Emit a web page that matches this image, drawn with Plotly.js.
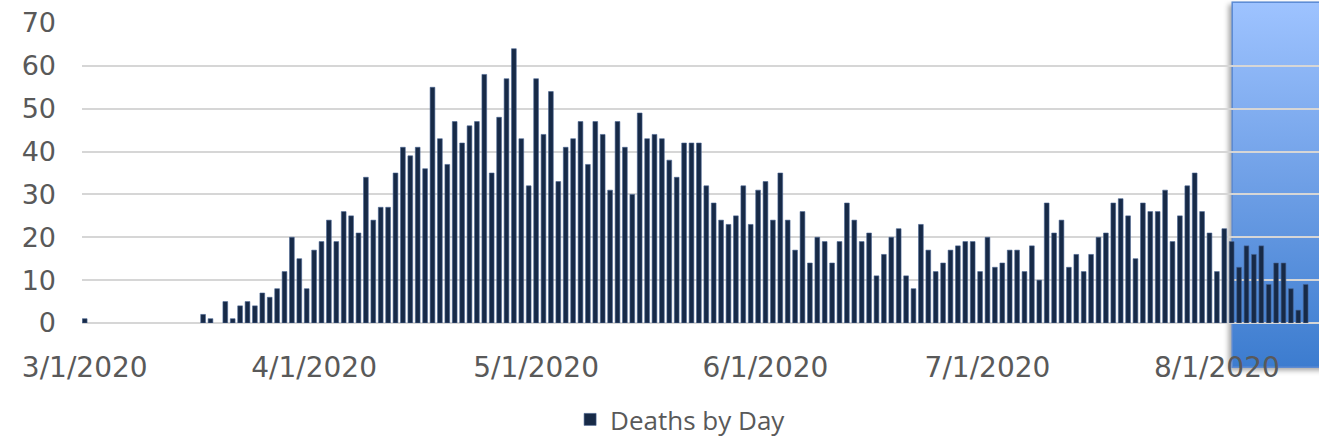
<!DOCTYPE html>
<html>
<head>
<meta charset="utf-8">
<script src="https://cdn.plot.ly/plotly-3.0.1.min.js"></script>
<style>html,body{margin:0;padding:0;background:#fff;}#chart{width:1319px;height:443px;}</style>
</head>
<body>
<div id="chart"></div>
<script>
// Daily deaths, consecutive days starting 3/1/2020
var startDate = '2020-03-01';
var deaths = [
  1, 0, 0, 0, 0, 0, 0, 0, 0, 0, 0, 0, 0, 0, 0, 0, 2, 1, 0, 5, 1, 4, 5, 4, 7, 6, 8, 12, 20, 15, 8,
  17, 19, 24, 19, 26, 25, 21, 34, 24, 27, 27, 35, 41, 39, 41, 36, 55, 43, 37, 47, 42, 46, 47, 58, 35, 48, 57, 64, 43, 32,
  57, 44, 54, 33, 41, 43, 47, 37, 47, 44, 31, 47, 41, 30, 49, 43, 44, 43, 38, 34, 42, 42, 42, 32, 28, 24, 23, 25, 32, 23, 31,
  33, 24, 35, 24, 17, 26, 14, 20, 19, 14, 19, 28, 24, 19, 21, 11, 16, 20, 22, 11, 8, 23, 17, 12, 14, 17, 18, 19, 19, 12,
  20, 13, 14, 17, 17, 12, 18, 10, 28, 21, 24, 13, 16, 12, 16, 20, 21, 28, 29, 25, 15, 28, 26, 26, 31, 19, 25, 32, 35, 26, 21,
  12, 22, 19, 13, 18, 16, 18, 9, 14, 14, 8, 3, 9
];
var seriesName = 'Deaths by Day';
var tickDates = ['2020-03-01', '2020-04-01', '2020-05-01', '2020-06-01', '2020-07-01', '2020-08-01'];
var tickLabels = ['3/1/2020', '4/1/2020', '5/1/2020', '6/1/2020', '7/1/2020', '8/1/2020'];
var yTicks = [0, 10, 20, 30, 40, 50, 60, 70];

function dayList(start, n) {
  var out = [];
  var d0 = new Date(start + 'T00:00:00Z');
  for (var i = 0; i < n; i++) {
    var d = new Date(d0.getTime() + i * 86400000);
    out.push(d.toISOString().slice(0, 10));
  }
  return out;
}
var dates = dayList(startDate, deaths.length);
// no outline on empty days so the baseline stays clean
var outlineWidths = deaths.map(function (v) { return v > 0 ? 0.7 : 0; });

var svg =
  '<svg xmlns="http://www.w3.org/2000/svg" width="97" height="376" viewBox="0 0 97 376" preserveAspectRatio="none">' +
  '<defs>' +
  '<linearGradient id="g" x1="0" y1="0" x2="0" y2="1">' +
  '<stop offset="0" stop-color="#9EC3FF"/><stop offset="0.5" stop-color="#6E9FE6"/><stop offset="1" stop-color="#3C7CCF"/>' +
  '</linearGradient>' +
  '<filter id="f" x="-50%" y="-10%" width="200%" height="120%"><feGaussianBlur stdDeviation="2.5"/></filter>' +
  '</defs>' +
  '<rect x="6.5" y="4.5" width="110" height="366" fill="#000" fill-opacity="0.35" filter="url(#f)"/>' +
  '<rect x="10.2" y="2.2" width="110" height="365" fill="url(#g)" stroke="#5A8AD4" stroke-width="1.5"/>' +
  '</svg>';
var svgUri = 'data:image/svg+xml;charset=utf-8,' + encodeURIComponent(svg);

var trace = {
  type: 'bar',
  name: seriesName,
  x: dates,
  y: deaths,
  marker: { color: '#172A47', line: { color: 'rgba(72,100,146,0.85)', width: outlineWidths } },
  showlegend: true,
  hoverinfo: 'x+y'
};

var layout = {
  width: 1319,
  height: 443,
  margin: { l: 82, r: 0, t: 23, b: 120 },
  paper_bgcolor: '#ffffff',
  plot_bgcolor: 'rgba(0,0,0,0)',
  bargap: 0.36,
  showlegend: true,
  legend: {
    orientation: 'h',
    xref: 'container', yref: 'container',
    x: 0.516, xanchor: 'center',
    y: 0, yanchor: 'bottom',
    borderwidth: 0,
    font: { family: 'Open Sans, sans-serif', size: 26, color: '#595959' },
    itemwidth: 30
  },
  xaxis: {
    type: 'date',
    range: ['2020-02-29 15:14', '2020-08-14 19:12'],
    tickmode: 'array',
    tickvals: tickDates,
    ticktext: tickLabels,
    showgrid: false,
    zeroline: false,
    showline: false,
    ticks: '',
    ticklabelstandoff: 25,
    tickfont: { family: 'DejaVu Sans, sans-serif', size: 28, color: '#595959' },
    fixedrange: true
  },
  yaxis: {
    range: [0, 70],
    tickmode: 'array',
    tickvals: yTicks,
    showgrid: true,
    gridcolor: '#D6D6D6',
    gridwidth: 2,
    zeroline: true,
    zerolinecolor: '#D6D6D6',
    zerolinewidth: 2,
    showline: false,
    ticks: '',
    ticklabelstandoff: 25,
    tickfont: { family: 'DejaVu Sans, sans-serif', size: 27, color: '#595959' },
    fixedrange: true
  },
  images: [{
    source: svgUri,
    xref: 'paper', yref: 'paper',
    x: 0.9216, y: 1.0767,
    sizex: 0.0784, sizey: 1.2533,
    xanchor: 'left', yanchor: 'top',
    sizing: 'stretch',
    layer: 'below'
  }]
};

Plotly.newPlot('chart', [trace], layout, { displayModeBar: false, staticPlot: true });
</script>
</body>
</html>
